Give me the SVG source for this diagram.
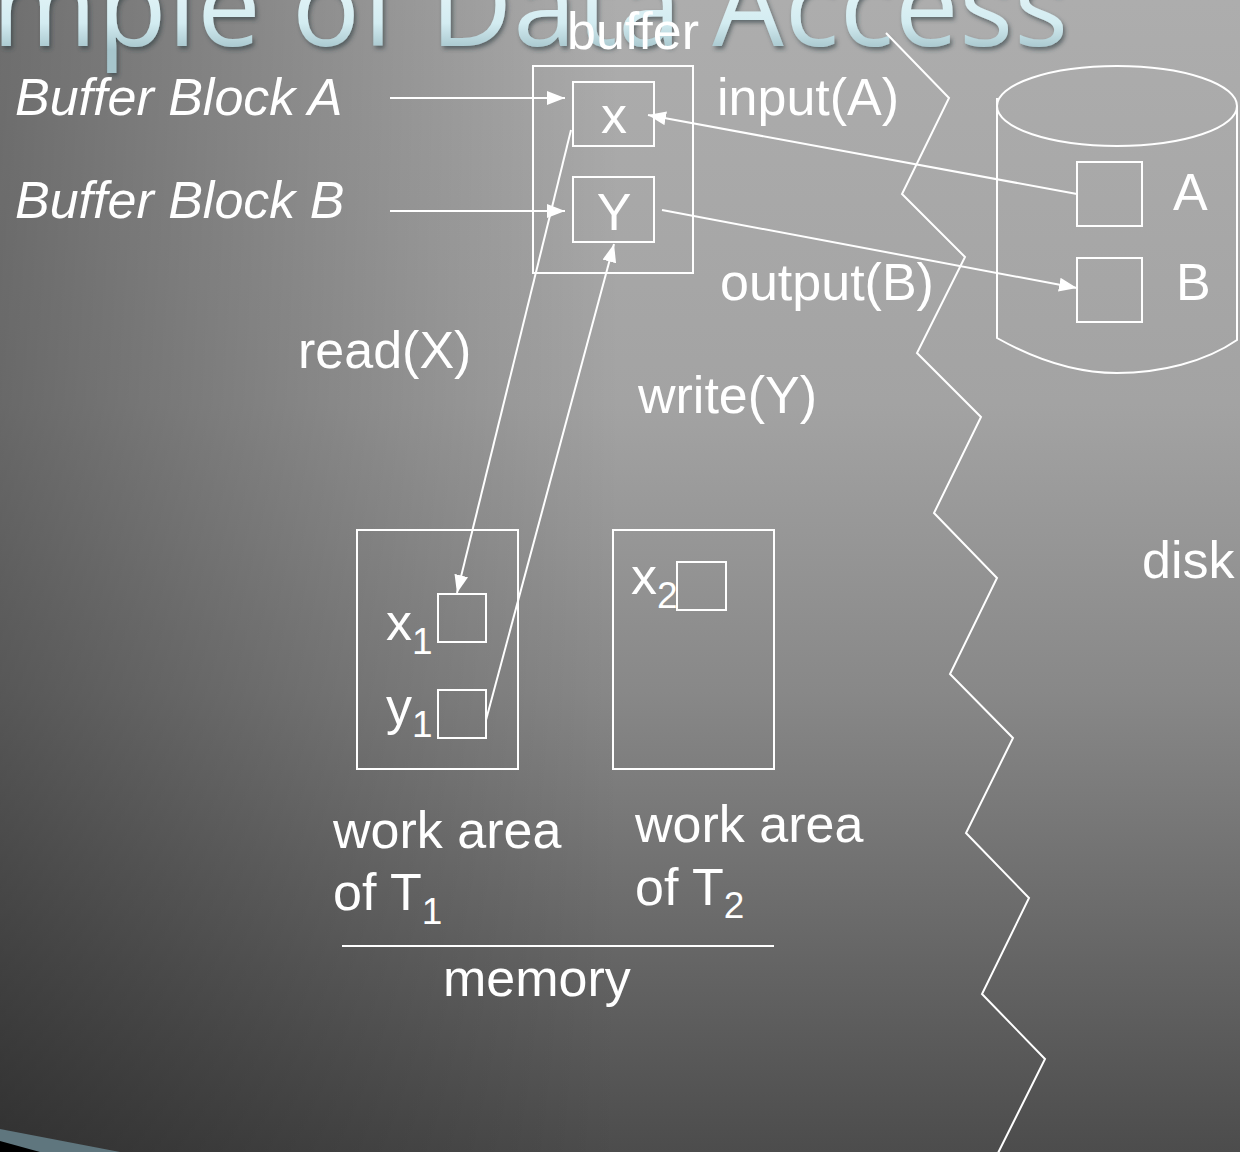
<svg xmlns="http://www.w3.org/2000/svg" width="1240" height="1152" viewBox="0 0 1240 1152">
<defs>
<linearGradient id="bgV" x1="0" y1="0" x2="0" y2="1152" gradientUnits="userSpaceOnUse">
<stop offset="0" stop-color="#adadad"/>
<stop offset="0.35" stop-color="#a3a3a3"/>
<stop offset="0.6" stop-color="#888888"/>
<stop offset="1" stop-color="#4c4c4c"/>
</linearGradient>
<linearGradient id="bgH" x1="0" y1="0" x2="620" y2="0" gradientUnits="userSpaceOnUse">
<stop offset="0" stop-color="#000" stop-opacity="0.36"/>
<stop offset="1" stop-color="#000" stop-opacity="0"/>
</linearGradient>
<linearGradient id="titleFill" x1="0" y1="-40" x2="0" y2="50" gradientUnits="userSpaceOnUse">
<stop offset="0" stop-color="#eef9fb"/>
<stop offset="0.7" stop-color="#d3ecf1"/>
<stop offset="1" stop-color="#a6c5cc"/>
</linearGradient>
<filter id="shadow" x="-5%" y="-50%" width="110%" height="200%">
<feDropShadow dx="2" dy="3" stdDeviation="2" flood-color="#2f3c40" flood-opacity="0.6"/>
</filter>
<marker id="arrow" markerUnits="userSpaceOnUse" markerWidth="20" markerHeight="16" refX="18" refY="7" orient="auto">
<path d="M0,0 L18,7 L0,14 z" fill="#ffffff"/>
</marker>
<style>
.lbl { font-family: "Liberation Sans", Arial, sans-serif; font-size: 52px; fill: #ffffff; }
.it { font-style: italic; }
.sub { font-size: 37px; }
.box { fill: none; stroke: #ffffff; stroke-width: 2; }
.ln { fill: none; stroke: #ffffff; stroke-width: 2; }
.arr { fill: none; stroke: #ffffff; stroke-width: 2; marker-end: url(#arrow); }
.title { font-family: "Open Sans", "Noto Sans", sans-serif; font-size: 113px; fill: url(#titleFill); }
</style>
</defs>

<g id="background">
<rect x="0" y="0" width="1240" height="1152" fill="url(#bgV)"/>
<rect x="0" y="0" width="1240" height="1152" fill="url(#bgH)"/>
<polygon points="0,1129 120,1152 0,1152" fill="#5f767e"/>
<polygon points="0,1141 40,1152 0,1152" fill="#000000"/>
</g>

<g id="title">
<text class="title" x="-8" y="46" textLength="1076" lengthAdjust="spacing" filter="url(#shadow)">mple of Data Access</text>
</g>

<g id="zigzag">
<polyline class="ln" points="886,33 949,98 902,194 965,257 917,353 981,417 934,513 997,578 950,674 1013,738 966,833 1029,898 982,994 1045,1059 998,1153"/>
</g>

<g id="buffer">
<rect class="box" x="533" y="66" width="160" height="207"/>
<text class="lbl" x="567" y="49">buffer</text>
</g>
<g id="buffer-x">
<rect class="box" x="573" y="82" width="81" height="64"/>
<text class="lbl" x="614" y="133" text-anchor="middle">x</text>
</g>
<g id="buffer-y">
<rect class="box" x="573" y="177" width="81" height="65"/>
<text class="lbl" x="614" y="230" text-anchor="middle">Y</text>
</g>

<g id="label-block-a">
<text class="lbl it" x="15" y="115">Buffer Block A</text>
</g>
<g id="label-block-b">
<text class="lbl it" x="15" y="218">Buffer Block B</text>
</g>

<g id="disk">
<ellipse class="ln" cx="1117" cy="106" rx="120" ry="40"/>
<path class="ln" d="M997,98 L997,338 C1040,362 1080,373 1117,373 C1160,373 1205,362 1237,340 L1237,106"/>
<text class="lbl" x="1142" y="578">disk</text>
</g>
<g id="disk-a">
<rect class="box" x="1077" y="162" width="65" height="64"/>
<text class="lbl" x="1173" y="210">A</text>
</g>
<g id="disk-b">
<rect class="box" x="1077" y="258" width="65" height="64"/>
<text class="lbl" x="1176" y="300">B</text>
</g>

<g id="work-t1">
<rect class="box" x="357" y="530" width="161" height="239"/>
<rect class="box" x="438" y="594" width="48" height="48"/>
<rect class="box" x="438" y="690" width="48" height="48"/>
<text class="lbl" x="386" y="640">x<tspan class="sub" dy="14">1</tspan></text>
<text class="lbl" x="386" y="724">y<tspan class="sub" dy="13">1</tspan></text>
<text class="lbl" x="333" y="848">work area</text>
<text class="lbl" x="333" y="910">of T<tspan class="sub" dy="14">1</tspan></text>
</g>

<g id="work-t2">
<rect class="box" x="613" y="530" width="161" height="239"/>
<rect class="box" x="677" y="562" width="49" height="48"/>
<text class="lbl" x="631" y="594">x<tspan class="sub" dy="14">2</tspan></text>
<text class="lbl" x="635" y="842">work area</text>
<text class="lbl" x="635" y="905">of T<tspan class="sub" dy="13">2</tspan></text>
</g>

<g id="memory">
<line class="ln" x1="342" y1="946" x2="774" y2="946"/>
<text class="lbl" x="443" y="996">memory</text>
</g>

<g id="connectors">
<line class="arr" x1="390" y1="98" x2="565" y2="98"/>
<line class="arr" x1="390" y1="211" x2="565" y2="211"/>
<line class="arr" x1="1077" y1="194" x2="648" y2="115"/>
<line class="arr" x1="662" y1="210" x2="1077" y2="288"/>
<line class="arr" x1="571" y1="130" x2="457" y2="593"/>
<line class="arr" x1="486" y1="720" x2="614" y2="244"/>
</g>

<g id="connector-labels">
<text class="lbl" x="717" y="115">input(A)</text>
<text class="lbl" x="720" y="300">output(B)</text>
<text class="lbl" x="298" y="368">read(X)</text>
<text class="lbl" x="638" y="413">write(Y)</text>
</g>
</svg>
